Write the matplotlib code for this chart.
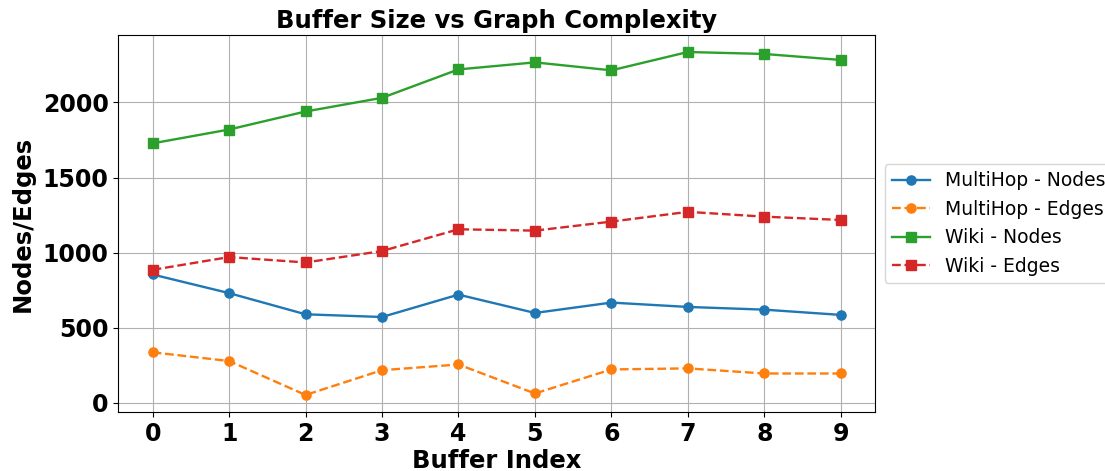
import matplotlib
matplotlib.use("Agg")
import matplotlib.pyplot as plt

## data ##

buffer_idx = [0, 1, 2, 3, 4, 5, 6, 7, 8, 9]
multihop_nodes = [855, 731, 590, 572, 721, 599, 668, 639, 621, 586]
multihop_edges = [337, 279, 53, 218, 256, 63, 223, 230, 196, 196]
wiki_nodes = [1728, 1820, 1940, 2031, 2220, 2267, 2214, 2336, 2323, 2283]
wiki_edges = [886, 971, 935, 1011, 1156, 1147, 1207, 1272, 1240, 1218]

fig, ax = plt.subplots(figsize=(11.05, 4.71), dpi=100)
plt.subplots_adjust(left=0.107, right=0.792, top=0.926, bottom=0.125)

lw = 1.7
ms = 6.6
ax.plot(buffer_idx, multihop_nodes, marker='o', linestyle='-', lw=lw, ms=ms, color='tab:blue', label='MultiHop - Nodes')
ax.plot(buffer_idx, multihop_edges, marker='o', linestyle='--', lw=lw, ms=ms, color='tab:orange', label='MultiHop - Edges')
ax.plot(buffer_idx, wiki_nodes, marker='s', linestyle='-', lw=lw, ms=ms, color='tab:green', label='Wiki - Nodes')
ax.plot(buffer_idx, wiki_edges, marker='s', linestyle='--', lw=lw, ms=ms, color='tab:red', label='Wiki - Edges')

ax.set_title('Buffer Size vs Graph Complexity', fontsize=17.5, fontweight='bold', pad=5)
ax.set_xlabel('Buffer Index', fontsize=17.5, fontweight='bold', labelpad=2)
ax.set_ylabel('Nodes/Edges', fontsize=17.5, fontweight='bold', labelpad=6)
ax.set_xticks(buffer_idx)
for lbl in ax.get_xticklabels() + ax.get_yticklabels():
    lbl.set_fontsize(17)
    lbl.set_fontweight('bold')
ax.grid(True)

ax.legend(loc='center left', bbox_to_anchor=(1.0, 0.5), fontsize=13.5)

fig.savefig('out.png', dpi=100)
